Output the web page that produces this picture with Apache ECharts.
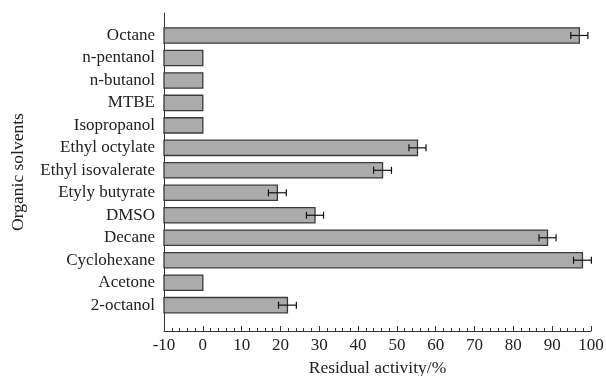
<!DOCTYPE html>
<html>
<head>
<meta charset="utf-8">
<script src="https://cdn.jsdelivr.net/npm/echarts@6/dist/echarts.min.js"></script>
<style>html,body{margin:0;padding:0;background:#fff}#c{width:606px;height:376px}</style>
</head>
<body>
<div id="c"></div>
<script>
const categories = ["Octane","n-pentanol","n-butanol","MTBE","Isopropanol","Ethyl octylate","Ethyl isovalerate","Etyly butyrate","DMSO","Decane","Cyclohexane","Acetone","2-octanol"];
const values = [97.0, 0, 0, 0, 0, 55.3, 46.3, 19.2, 28.9, 88.8, 97.8, 0, 21.8];
const errors = [2.2, 0, 0, 0, 0, 2.2, 2.3, 2.3, 2.2, 2.2, 2.3, 0, 2.3];
const xTicks = [-10, 0, 10, 20, 30, 40, 50, 60, 70, 80, 90, 100];

const xMin = xTicks[0], xMax = xTicks[xTicks.length - 1];
const barData = values.map((v, i) => [v, i + 1]);
const errData = values.map((v, i) => [v - errors[i], v + errors[i], i + 1, errors[i]]);
const font = "'Liberation Serif', 'Times New Roman', serif";

const chart = echarts.init(document.getElementById('c'), null, {renderer: 'canvas'});
chart.setOption({
  animation: false,
  backgroundColor: '#fff',
  grid: {left: 164, right: 15, top: 13, bottom: 45, containLabel: false, outerBoundsMode: 'none'},
  xAxis: {
    type: 'value', min: xMin, max: xMax, interval: 10,
    name: 'Residual activity/%', nameLocation: 'middle', nameGap: 28,
    nameTextStyle: {fontFamily: font, fontSize: 17.5, color: '#222'},
    axisLine: {show: true, onZero: false, lineStyle: {color: '#333', width: 1}},
    axisTick: {show: true, inside: true, length: 5, lineStyle: {color: '#333'}},
    minorTick: {show: true, splitNumber: 5, length: 3, lineStyle: {color: '#333'}},
    axisLabel: {fontFamily: font, fontSize: 17, color: '#222', margin: 6},
    splitLine: {show: false}
  },
  yAxis: {
    type: 'value', inverse: true, min: 0, max: 14.15, interval: 1,
    name: 'Organic solvents', nameLocation: 'middle', nameGap: 137, nameRotate: 90,
    nameTextStyle: {fontFamily: font, fontSize: 17.5, color: '#222'},
    axisLine: {show: true, onZero: false, lineStyle: {color: '#333', width: 1}},
    axisTick: {show: false},
    axisLabel: {
      fontFamily: font, fontSize: 17, color: '#222', margin: 9,
      showMinLabel: true, showMaxLabel: true,
      formatter: v => (Number.isInteger(v) && v >= 1 && v <= categories.length) ? categories[v - 1] : ''
    },
    splitLine: {show: false}
  },
  series: [
    {
      type: 'custom',
      data: barData,
      encode: {x: 0, y: 1},
      renderItem: function (params, api) {
        const y = api.value(1);
        const p0 = api.coord([xMin, y]);
        const p1 = api.coord([api.value(0), y]);
        const h = api.size([0, 1])[1] * 0.68;
        return {
          type: 'rect',
          shape: {x: p0[0], y: p0[1] - h / 2, width: p1[0] - p0[0], height: h},
          style: {fill: '#ababab', stroke: '#3a3a3a', lineWidth: 1.3}
        };
      }
    },
    {
      type: 'custom',
      data: errData,
      encode: {x: [0, 1], y: 2},
      renderItem: function (params, api) {
        if (api.value(3) <= 0) return null;
        const y = api.value(2);
        const a = api.coord([api.value(0), y]);
        const b = api.coord([api.value(1), y]);
        const c = 3.5;
        const st = {stroke: '#111', lineWidth: 1.2};
        return {
          type: 'group',
          children: [
            {type: 'line', shape: {x1: a[0], y1: a[1], x2: b[0], y2: b[1]}, style: st},
            {type: 'line', shape: {x1: a[0], y1: a[1] - c, x2: a[0], y2: a[1] + c}, style: st},
            {type: 'line', shape: {x1: b[0], y1: b[1] - c, x2: b[0], y2: b[1] + c}, style: st}
          ]
        };
      },
      z: 5
    }
  ]
});
</script>
</body>
</html>
